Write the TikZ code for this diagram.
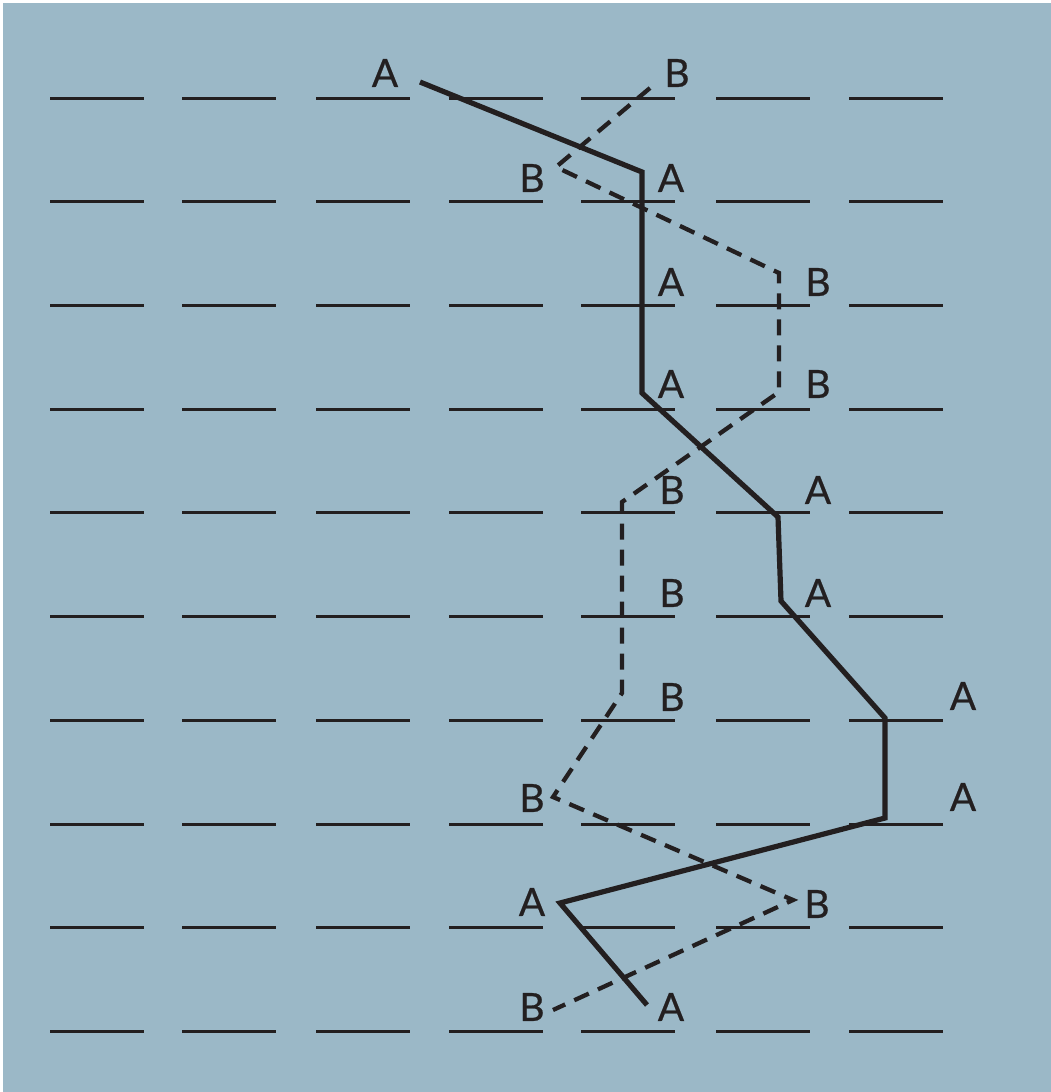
\documentclass[tikz,border=0pt]{standalone}
\usepackage{fontspec}
\setmainfont{Lato}[FakeBold=0.6]
\definecolor{bg}{RGB}{155,184,199}
\definecolor{ink}{RGB}{35,31,32}
\begin{document}
\begin{tikzpicture}[x=1pt,y=-1pt,
  lbl/.style={font=\fontsize{39}{39}\selectfont, text=ink, inner sep=0pt, anchor=center},
  apath/.style={draw=ink, line width=5.2pt, line join=miter},
  bpath/.style={draw=ink, line width=4.3pt, dash pattern=on 16pt off 10pt, line join=miter},
  gridline/.style={draw=ink, line width=3pt}]
\useasboundingbox (0,0) rectangle (1051,1092);
\fill[white] (0,0) rectangle (1051,1092);
\fill[bg] (3,3) rectangle (1051,1092);
% answer lines
\foreach \y in {98,201.7,305.4,409,512.8,616.5,720,824,927.6,1031} {
  \foreach \x in {50,182,316,449,581,716,849} {
    \draw[gridline] (\x,\y) -- ++(94,0);
  }
}
% path A vertices
\coordinate (a1) at (420,82);
\coordinate (a2) at (642,172);
\coordinate (a3) at (642,393);
\coordinate (a4) at (778,517);
\coordinate (a5) at (781,601);
\coordinate (a6) at (885,718);
\coordinate (a7) at (885,818);
\coordinate (a8) at (560,903);
\coordinate (a9) at (647,1005);
% path B vertices
\coordinate (b1) at (650,88);
\coordinate (b2) at (556,167);
\coordinate (b3) at (779,273);
\coordinate (b4) at (779,392);
\coordinate (b5) at (622,502);
\coordinate (b6) at (622,693);
\coordinate (b7) at (553,797);
\coordinate (b8) at (793,900);
\coordinate (b9) at (553,1010);
\draw[bpath] (b1) -- (b2) -- (b3) -- (b4) -- (b5) -- (b6) -- (b7) -- (b8) -- (b9);
\draw[apath] (a1) -- (a2) -- (a3) -- (a4) -- (a5) -- (a6) -- (a7) -- (a8) -- (a9);
% labels
\node[lbl] (la1) at (385,73) {A};
\node[lbl] (lb1) at (677,73) {B};
\node[lbl] (lb2) at (532,178) {B};
\node[lbl] (la2) at (671,178) {A};
\node[lbl] (la3) at (671,282) {A};
\node[lbl] (lb3) at (818,282) {B};
\node[lbl] (la4) at (671,384) {A};
\node[lbl] (lb4) at (818,384) {B};
\node[lbl] (lb5) at (672,490) {B};
\node[lbl] (la5) at (818,490) {A};
\node[lbl] (lb6) at (672,593) {B};
\node[lbl] (la6) at (818,593) {A};
\node[lbl] (lb7) at (672,697) {B};
\node[lbl] (la7) at (963,696) {A};
\node[lbl] (lb8) at (532,798) {B};
\node[lbl] (la8) at (963,797) {A};
\node[lbl] (la9) at (532,902) {A};
\node[lbl] (lb9) at (817,904) {B};
\node[lbl] (lb10) at (532,1007) {B};
\node[lbl] (la10) at (671,1007) {A};
\end{tikzpicture}
\end{document}
